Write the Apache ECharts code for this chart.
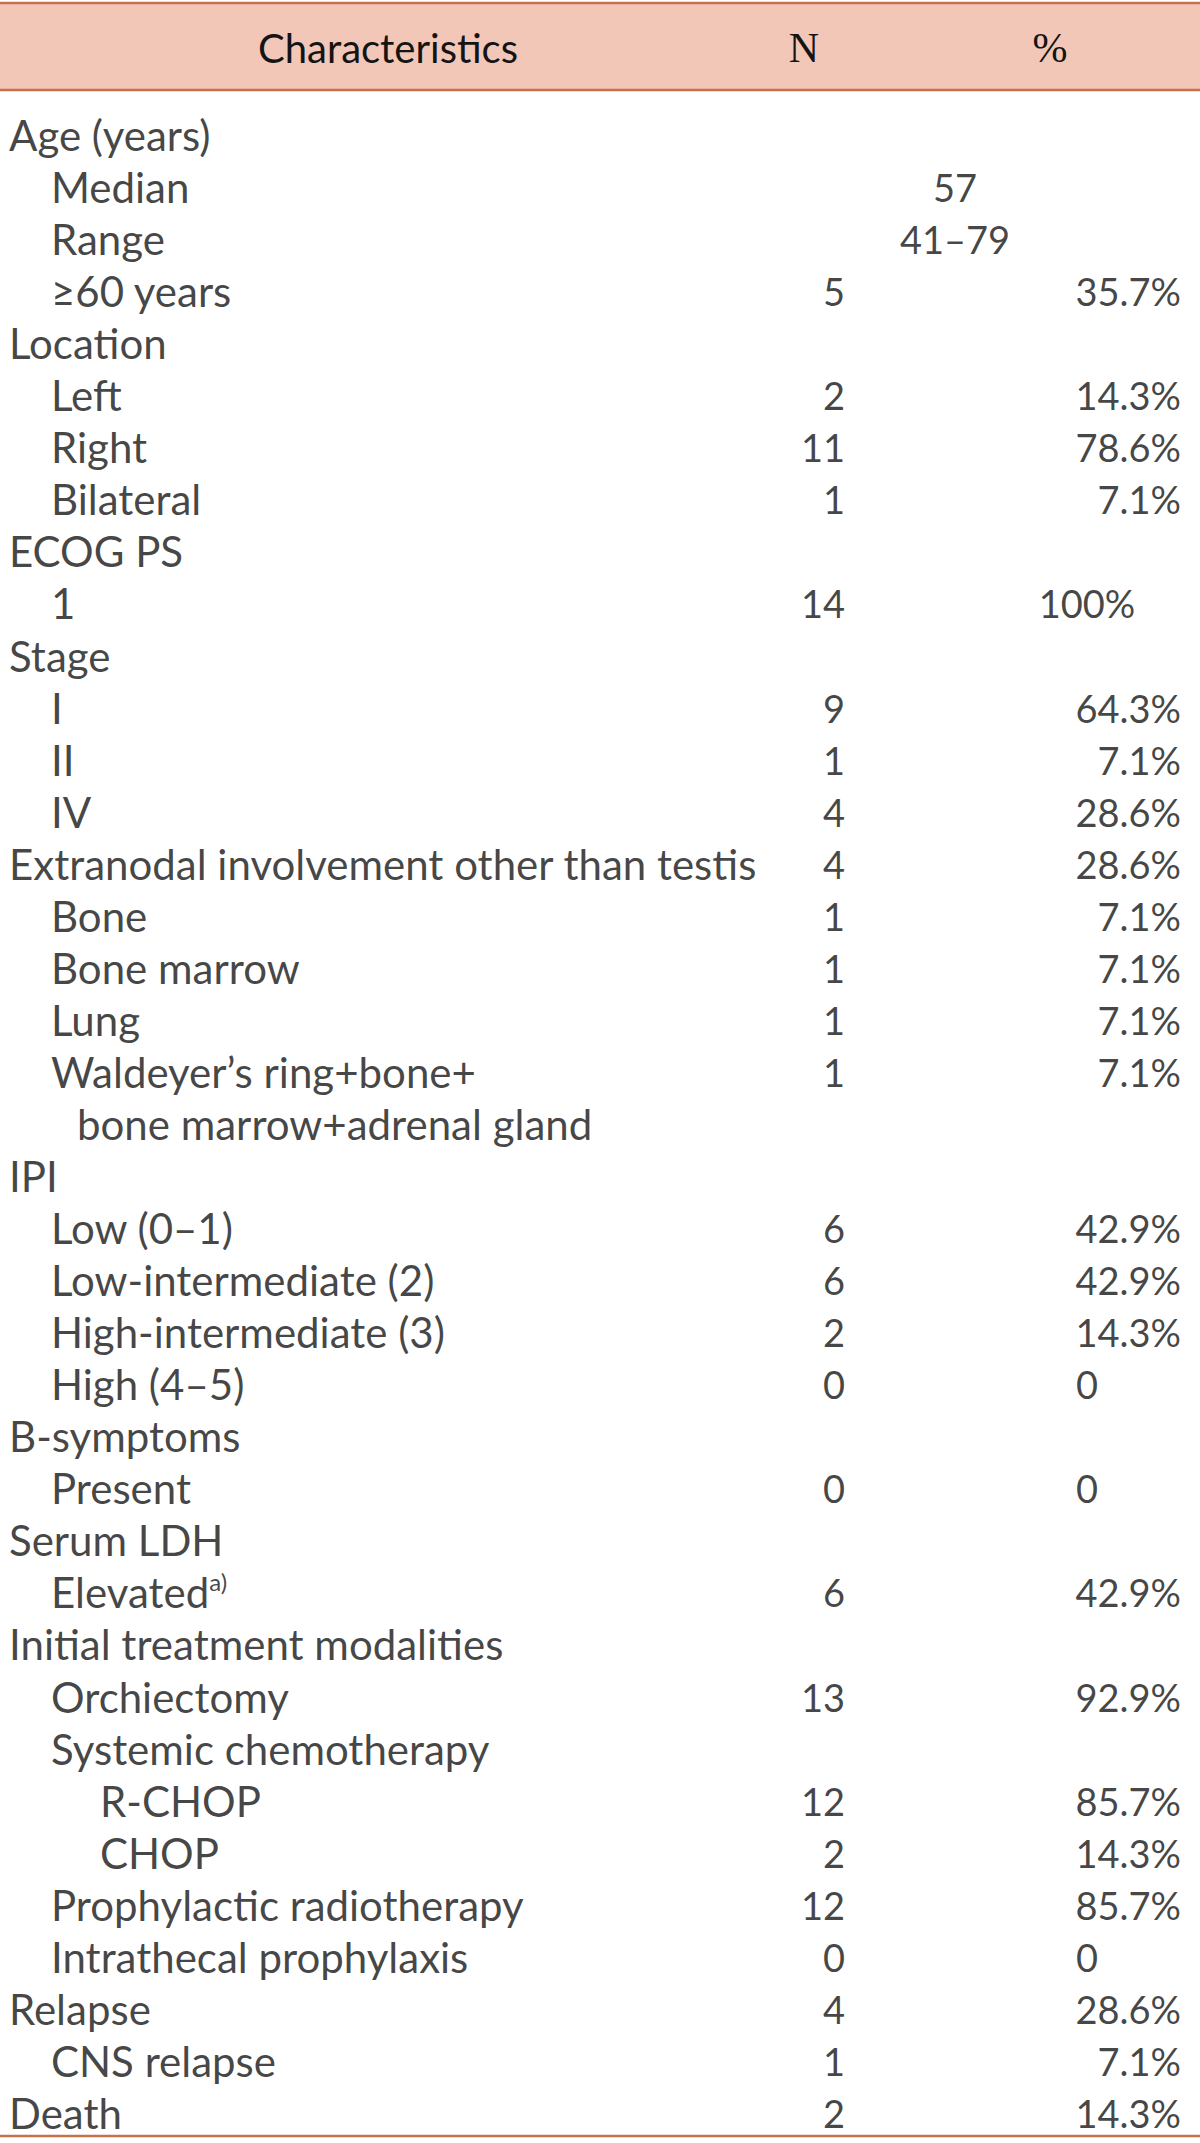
<!DOCTYPE html>
<html><head><meta charset="utf-8">
<script src="https://cdn.jsdelivr.net/npm/echarts@6/dist/echarts.min.js"></script>
<style>html,body{margin:0;padding:0;background:#fff}#c{width:1200px;height:2143px}</style>
</head><body><div id="c"></div>
<script>
// ---- data ----
const headers = ['Characteristics', 'N', '%'];
const characteristics = [
  'Age (years)', 'Median', 'Range', '\u226560 years',
  'Location', 'Left', 'Right', 'Bilateral',
  'ECOG PS', '1',
  'Stage', 'I', 'II', 'IV',
  'Extranodal involvement other than testis', 'Bone', 'Bone marrow', 'Lung',
  'Waldeyer\u2019s ring+bone+', 'bone marrow+adrenal gland',
  'IPI', 'Low (0\u20131)', 'Low-intermediate (2)', 'High-intermediate (3)', 'High (4\u20135)',
  'B-symptoms', 'Present',
  'Serum LDH', 'Elevated',
  'Initial treatment modalities', 'Orchiectomy', 'Systemic chemotherapy', 'R-CHOP', 'CHOP',
  'Prophylactic radiotherapy', 'Intrathecal prophylaxis',
  'Relapse', 'CNS relapse', 'Death'
];
const levels = [
  0, 1, 1, 1,
  0, 1, 1, 1,
  0, 1,
  0, 1, 1, 1,
  0, 1, 1, 1,
  1, 1.5,
  0, 1, 1, 1, 1,
  0, 1,
  0, 1,
  0, 1, 1, 2, 2,
  1, 1,
  0, 1, 0
];
const footnoteMarks = { 'Elevated': 'a)' };
const nValues = [
  null, null, null, 5,
  null, 2, 11, 1,
  null, 14,
  null, 9, 1, 4,
  4, 1, 1, 1,
  1, null,
  null, 6, 6, 2, 0,
  null, 0,
  null, 6,
  null, 13, null, 12, 2,
  12, 0,
  4, 1, 2
];
const pctValues = [
  null, null, null, '35.7%',
  null, '14.3%', '78.6%', '7.1%',
  null, '100%',
  null, '64.3%', '7.1%', '28.6%',
  '28.6%', '7.1%', '7.1%', '7.1%',
  '7.1%', null,
  null, '42.9%', '42.9%', '14.3%', '0',
  null, '0',
  null, '42.9%',
  null, '92.9%', null, '85.7%', '14.3%',
  '85.7%', '0',
  '28.6%', '7.1%', '14.3%'
];
const summaryValues = [null, '57', '41\u201379'];

// ---- layout / style ----
const W = 1200, H = 2143;
const FONT = 'Lato, "Open Sans", sans-serif';
const FS = 42;
const NUM_FS = 38;
const TXT = '#141414';
const LINE = '#c5714c';
const BAND = '#f2c7b8';
const rowTop = 109, rowH = 52.05;
const indentX = lv => ({0: 9, 1: 51, 1.5: 77, 2: 100})[lv];
const xN = 845, xPctRight = 1181, xPctCenter = 1087, xSummary = 955;

const rows = characteristics.map((_, i) => i);

const labelBase = { show: true, fontFamily: FONT, fontSize: NUM_FS, color: TXT, distance: 0 };

const textSeries = {
  name: 'Characteristics', type: 'scatter', symbolSize: 0, silent: true,
  data: characteristics.map((t, i) => ({ value: [indentX(levels[i]), i], name: t })),
  label: Object.assign({}, labelBase, {
    fontSize: FS,
    position: 'right',
    formatter: p => footnoteMarks[p.name] ? '{m|' + p.name + '}{s|' + footnoteMarks[p.name] + '}' : '{m|' + p.name + '}',
    rich: {
      m: { fontFamily: FONT, fontSize: FS, color: TXT, lineHeight: 46 },
      s: { fontFamily: FONT, fontSize: 24, color: TXT, verticalAlign: 'top', lineHeight: 46 }
    }
  })
};
const nSeries = {
  name: 'N', type: 'scatter', symbolSize: 0, silent: true,
  data: nValues.map((v, i) => v === null ? null : { value: [xN, i], name: String(v) }).filter(Boolean),
  label: Object.assign({}, labelBase, { position: 'left', formatter: p => p.name })
};
const pctRightSeries = {
  name: '% (decimal)', type: 'scatter', symbolSize: 0, silent: true,
  data: pctValues.map((v, i) => (v !== null && v.indexOf('.') >= 0) ? { value: [xPctRight, i], name: v } : null).filter(Boolean),
  label: Object.assign({}, labelBase, { position: 'left', formatter: p => p.name })
};
const pctCenterSeries = {
  name: '% (whole)', type: 'scatter', symbolSize: 0, silent: true,
  data: pctValues.map((v, i) => (v !== null && v.indexOf('.') < 0) ? { value: [xPctCenter, i], name: v } : null).filter(Boolean),
  label: Object.assign({}, labelBase, { position: 'inside', formatter: p => p.name })
};
const summarySeries = {
  name: 'Age summary', type: 'scatter', symbolSize: 0, silent: true,
  data: summaryValues.map((v, i) => v === null ? null : { value: [xSummary, i], name: v }).filter(Boolean),
  label: Object.assign({}, labelBase, { position: 'inside', formatter: p => p.name })
};

const chart = echarts.init(document.getElementById('c'), null, { renderer: 'svg', width: W, height: H });
chart.setOption({
  backgroundColor: '#ffffff',
  animation: false,
  grid: { left: 0, top: rowTop, width: W, height: rowH * characteristics.length, containLabel: false },
  xAxis: { type: 'value', min: 0, max: W, show: false },
  yAxis: { type: 'category', data: rows, inverse: true, show: false, boundaryGap: true },
  graphic: [
    { type: 'rect', shape: { x: 0, y: 3, width: W, height: 87 }, style: { fill: BAND }, silent: true },
    { type: 'line', shape: { x1: 0, y1: 3, x2: W, y2: 3 }, style: { stroke: LINE, lineWidth: 2.5 }, silent: true },
    { type: 'line', shape: { x1: 0, y1: 90, x2: W, y2: 90 }, style: { stroke: LINE, lineWidth: 2.5 }, silent: true },
    { type: 'line', shape: { x1: 0, y1: 2136, x2: W, y2: 2136 }, style: { stroke: LINE, lineWidth: 2.5 }, silent: true },
    { type: 'text', x: 388, y: 48, style: { text: headers[0], font: '40px ' + FONT, fill: TXT, textAlign: 'center', textVerticalAlign: 'middle' }, silent: true },
    { type: 'text', x: 804, y: 48, style: { text: headers[1], font: '42px "Liberation Serif", serif', fill: TXT, textAlign: 'center', textVerticalAlign: 'middle' }, silent: true },
    { type: 'text', x: 1050, y: 48, style: { text: headers[2], font: '42px "Liberation Serif", serif', fill: TXT, textAlign: 'center', textVerticalAlign: 'middle' }, silent: true }
  ],
  series: [textSeries, nSeries, pctRightSeries, pctCenterSeries, summarySeries]
});
</script>
</body></html>
